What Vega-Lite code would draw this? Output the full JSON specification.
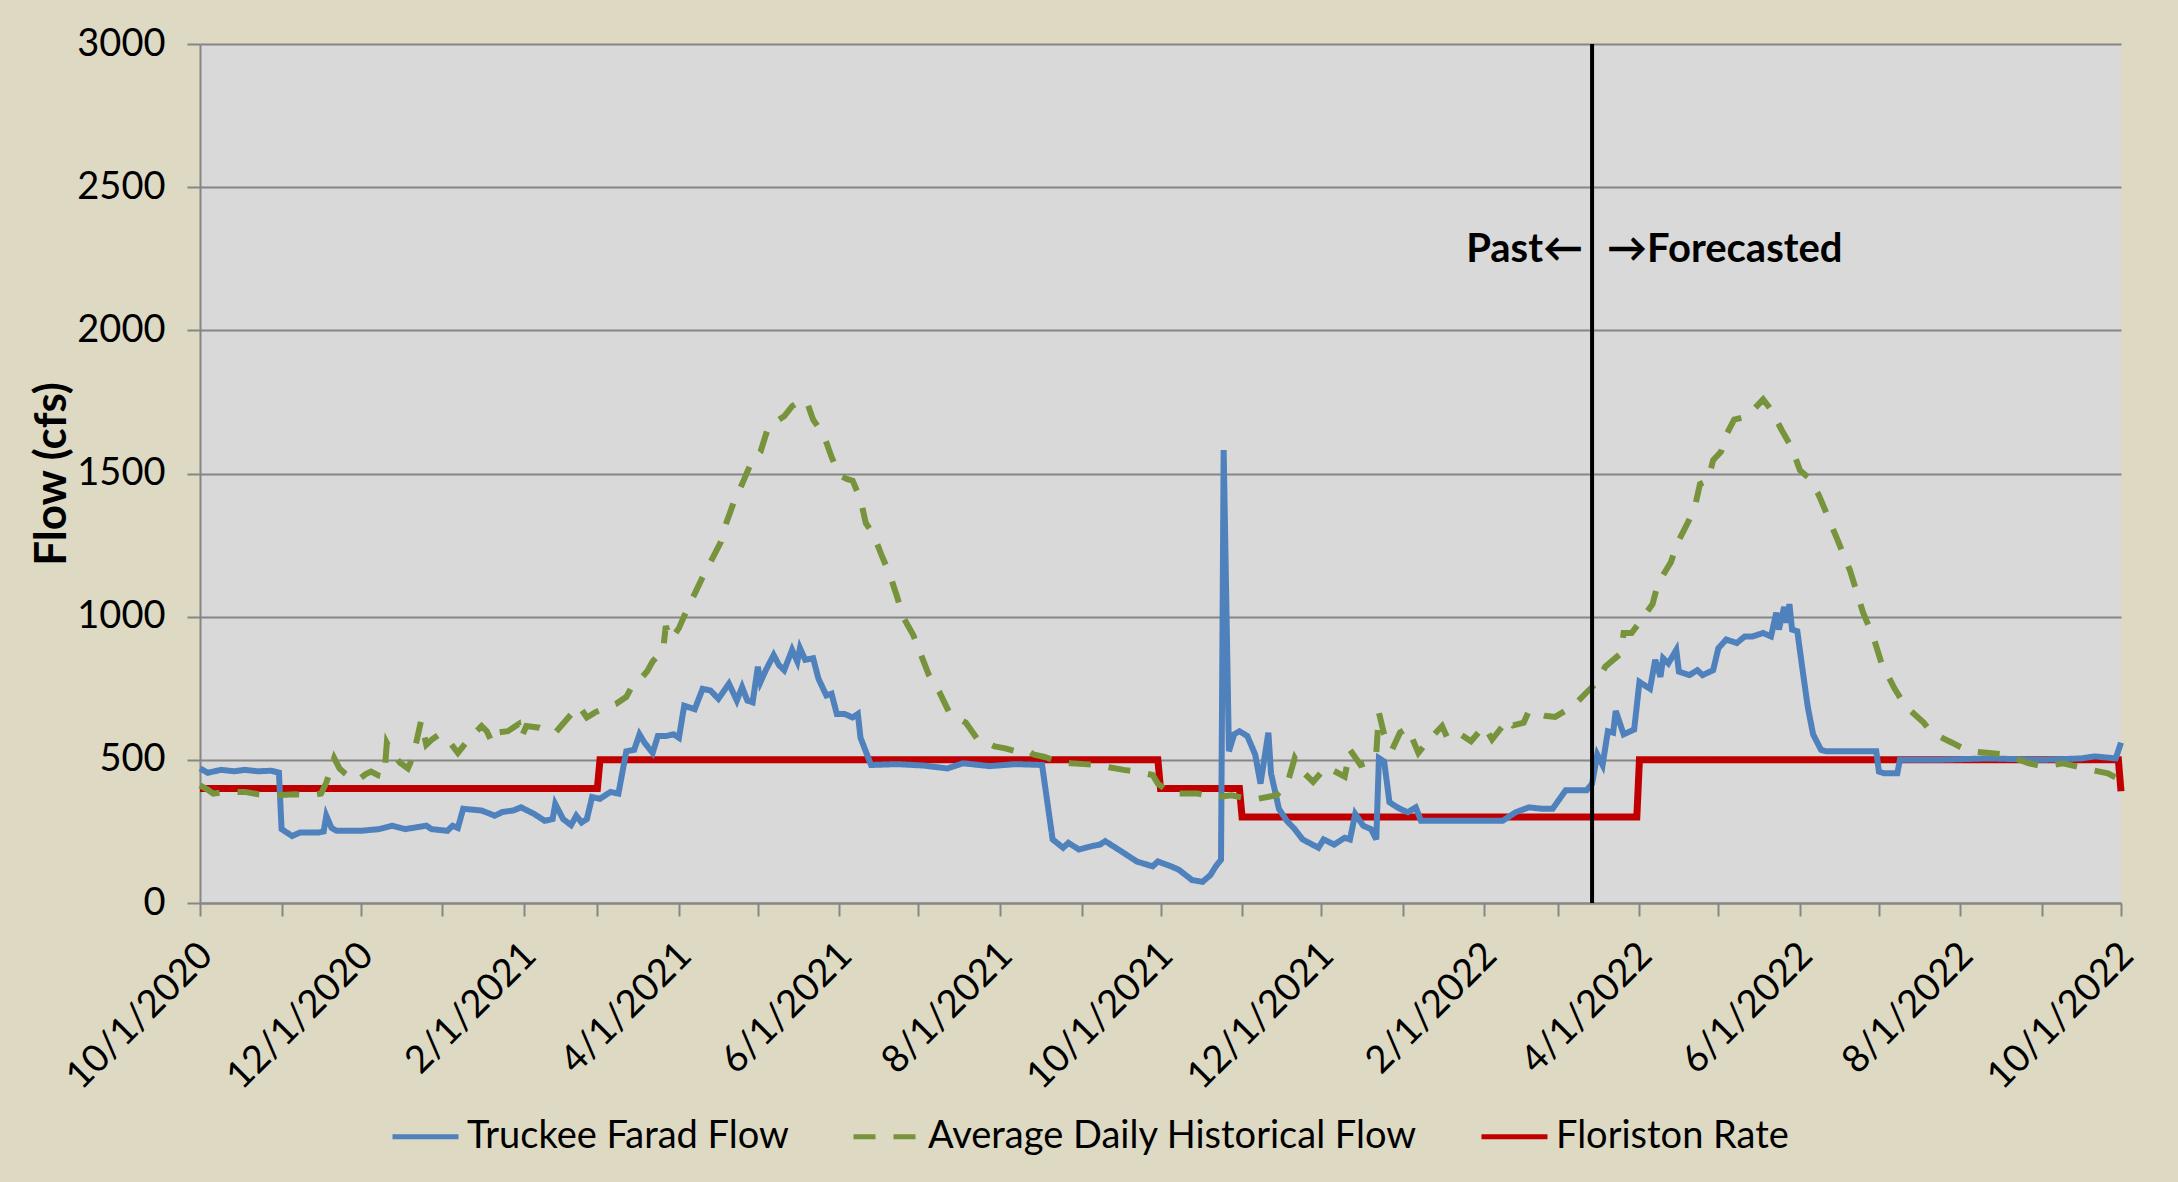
{
  "$schema": "https://vega.github.io/schema/vega-lite/v6.json",
  "width": 1921,
  "height": 859,
  "autosize": {"type": "none"},
  "padding": {"left": 200, "top": 44, "right": 57, "bottom": 279},
  "datasets": {
    "rate": [
      {"date": "2020-10-01", "cfs": 400, "series": "Floriston Rate"},
      {"date": "2021-03-01", "cfs": 400, "series": "Floriston Rate"},
      {"date": "2021-03-02", "cfs": 500, "series": "Floriston Rate"},
      {"date": "2021-09-30", "cfs": 500, "series": "Floriston Rate"},
      {"date": "2021-10-01", "cfs": 400, "series": "Floriston Rate"},
      {"date": "2021-10-31", "cfs": 400, "series": "Floriston Rate"},
      {"date": "2021-11-01", "cfs": 300, "series": "Floriston Rate"},
      {"date": "2022-03-31", "cfs": 300, "series": "Floriston Rate"},
      {"date": "2022-04-01", "cfs": 500, "series": "Floriston Rate"},
      {"date": "2022-09-30", "cfs": 500, "series": "Floriston Rate"},
      {"date": "2022-10-01", "cfs": 390, "series": "Floriston Rate"}
    ],
    "flow": [
      {"date": "2020-10-01", "cfs": 470, "series": "Truckee Farad Flow"},
      {"date": "2020-10-04", "cfs": 455, "series": "Truckee Farad Flow"},
      {"date": "2020-10-09", "cfs": 465, "series": "Truckee Farad Flow"},
      {"date": "2020-10-14", "cfs": 460, "series": "Truckee Farad Flow"},
      {"date": "2020-10-18", "cfs": 465, "series": "Truckee Farad Flow"},
      {"date": "2020-10-23", "cfs": 460, "series": "Truckee Farad Flow"},
      {"date": "2020-10-28", "cfs": 462, "series": "Truckee Farad Flow"},
      {"date": "2020-10-31", "cfs": 455, "series": "Truckee Farad Flow"},
      {"date": "2020-11-01", "cfs": 258, "series": "Truckee Farad Flow"},
      {"date": "2020-11-05", "cfs": 234, "series": "Truckee Farad Flow"},
      {"date": "2020-11-08", "cfs": 246, "series": "Truckee Farad Flow"},
      {"date": "2020-11-15", "cfs": 246, "series": "Truckee Farad Flow"},
      {"date": "2020-11-17", "cfs": 250, "series": "Truckee Farad Flow"},
      {"date": "2020-11-18", "cfs": 305, "series": "Truckee Farad Flow"},
      {"date": "2020-11-20", "cfs": 262, "series": "Truckee Farad Flow"},
      {"date": "2020-11-22", "cfs": 252, "series": "Truckee Farad Flow"},
      {"date": "2020-12-01", "cfs": 252, "series": "Truckee Farad Flow"},
      {"date": "2020-12-08", "cfs": 258, "series": "Truckee Farad Flow"},
      {"date": "2020-12-13", "cfs": 270, "series": "Truckee Farad Flow"},
      {"date": "2020-12-18", "cfs": 258, "series": "Truckee Farad Flow"},
      {"date": "2020-12-26", "cfs": 270, "series": "Truckee Farad Flow"},
      {"date": "2020-12-28", "cfs": 258, "series": "Truckee Farad Flow"},
      {"date": "2021-01-03", "cfs": 252, "series": "Truckee Farad Flow"},
      {"date": "2021-01-05", "cfs": 270, "series": "Truckee Farad Flow"},
      {"date": "2021-01-07", "cfs": 262, "series": "Truckee Farad Flow"},
      {"date": "2021-01-09", "cfs": 329, "series": "Truckee Farad Flow"},
      {"date": "2021-01-16", "cfs": 323, "series": "Truckee Farad Flow"},
      {"date": "2021-01-21", "cfs": 305, "series": "Truckee Farad Flow"},
      {"date": "2021-01-24", "cfs": 318, "series": "Truckee Farad Flow"},
      {"date": "2021-01-28", "cfs": 323, "series": "Truckee Farad Flow"},
      {"date": "2021-01-31", "cfs": 334, "series": "Truckee Farad Flow"},
      {"date": "2021-02-05", "cfs": 311, "series": "Truckee Farad Flow"},
      {"date": "2021-02-09", "cfs": 287, "series": "Truckee Farad Flow"},
      {"date": "2021-02-12", "cfs": 293, "series": "Truckee Farad Flow"},
      {"date": "2021-02-13", "cfs": 346, "series": "Truckee Farad Flow"},
      {"date": "2021-02-16", "cfs": 293, "series": "Truckee Farad Flow"},
      {"date": "2021-02-19", "cfs": 272, "series": "Truckee Farad Flow"},
      {"date": "2021-02-21", "cfs": 305, "series": "Truckee Farad Flow"},
      {"date": "2021-02-23", "cfs": 281, "series": "Truckee Farad Flow"},
      {"date": "2021-02-25", "cfs": 293, "series": "Truckee Farad Flow"},
      {"date": "2021-02-27", "cfs": 370, "series": "Truckee Farad Flow"},
      {"date": "2021-03-02", "cfs": 364, "series": "Truckee Farad Flow"},
      {"date": "2021-03-06", "cfs": 388, "series": "Truckee Farad Flow"},
      {"date": "2021-03-09", "cfs": 382, "series": "Truckee Farad Flow"},
      {"date": "2021-03-12", "cfs": 530, "series": "Truckee Farad Flow"},
      {"date": "2021-03-15", "cfs": 535, "series": "Truckee Farad Flow"},
      {"date": "2021-03-17", "cfs": 589, "series": "Truckee Farad Flow"},
      {"date": "2021-03-19", "cfs": 559, "series": "Truckee Farad Flow"},
      {"date": "2021-03-22", "cfs": 524, "series": "Truckee Farad Flow"},
      {"date": "2021-03-24", "cfs": 583, "series": "Truckee Farad Flow"},
      {"date": "2021-03-27", "cfs": 583, "series": "Truckee Farad Flow"},
      {"date": "2021-03-30", "cfs": 589, "series": "Truckee Farad Flow"},
      {"date": "2021-04-01", "cfs": 577, "series": "Truckee Farad Flow"},
      {"date": "2021-04-03", "cfs": 689, "series": "Truckee Farad Flow"},
      {"date": "2021-04-07", "cfs": 677, "series": "Truckee Farad Flow"},
      {"date": "2021-04-10", "cfs": 748, "series": "Truckee Farad Flow"},
      {"date": "2021-04-13", "cfs": 742, "series": "Truckee Farad Flow"},
      {"date": "2021-04-16", "cfs": 713, "series": "Truckee Farad Flow"},
      {"date": "2021-04-20", "cfs": 766, "series": "Truckee Farad Flow"},
      {"date": "2021-04-23", "cfs": 707, "series": "Truckee Farad Flow"},
      {"date": "2021-04-25", "cfs": 754, "series": "Truckee Farad Flow"},
      {"date": "2021-04-27", "cfs": 707, "series": "Truckee Farad Flow"},
      {"date": "2021-04-29", "cfs": 701, "series": "Truckee Farad Flow"},
      {"date": "2021-05-01", "cfs": 825, "series": "Truckee Farad Flow"},
      {"date": "2021-05-02", "cfs": 772, "series": "Truckee Farad Flow"},
      {"date": "2021-05-04", "cfs": 813, "series": "Truckee Farad Flow"},
      {"date": "2021-05-07", "cfs": 866, "series": "Truckee Farad Flow"},
      {"date": "2021-05-09", "cfs": 831, "series": "Truckee Farad Flow"},
      {"date": "2021-05-11", "cfs": 813, "series": "Truckee Farad Flow"},
      {"date": "2021-05-14", "cfs": 884, "series": "Truckee Farad Flow"},
      {"date": "2021-05-16", "cfs": 843, "series": "Truckee Farad Flow"},
      {"date": "2021-05-17", "cfs": 890, "series": "Truckee Farad Flow"},
      {"date": "2021-05-19", "cfs": 849, "series": "Truckee Farad Flow"},
      {"date": "2021-05-22", "cfs": 855, "series": "Truckee Farad Flow"},
      {"date": "2021-05-24", "cfs": 784, "series": "Truckee Farad Flow"},
      {"date": "2021-05-27", "cfs": 725, "series": "Truckee Farad Flow"},
      {"date": "2021-05-29", "cfs": 731, "series": "Truckee Farad Flow"},
      {"date": "2021-05-31", "cfs": 660, "series": "Truckee Farad Flow"},
      {"date": "2021-06-03", "cfs": 660, "series": "Truckee Farad Flow"},
      {"date": "2021-06-06", "cfs": 648, "series": "Truckee Farad Flow"},
      {"date": "2021-06-08", "cfs": 660, "series": "Truckee Farad Flow"},
      {"date": "2021-06-09", "cfs": 577, "series": "Truckee Farad Flow"},
      {"date": "2021-06-11", "cfs": 530, "series": "Truckee Farad Flow"},
      {"date": "2021-06-13", "cfs": 482, "series": "Truckee Farad Flow"},
      {"date": "2021-06-23", "cfs": 485, "series": "Truckee Farad Flow"},
      {"date": "2021-07-03", "cfs": 480, "series": "Truckee Farad Flow"},
      {"date": "2021-07-12", "cfs": 470, "series": "Truckee Farad Flow"},
      {"date": "2021-07-18", "cfs": 488, "series": "Truckee Farad Flow"},
      {"date": "2021-07-28", "cfs": 478, "series": "Truckee Farad Flow"},
      {"date": "2021-08-07", "cfs": 485, "series": "Truckee Farad Flow"},
      {"date": "2021-08-17", "cfs": 482, "series": "Truckee Farad Flow"},
      {"date": "2021-08-19", "cfs": 352, "series": "Truckee Farad Flow"},
      {"date": "2021-08-21", "cfs": 222, "series": "Truckee Farad Flow"},
      {"date": "2021-08-25", "cfs": 193, "series": "Truckee Farad Flow"},
      {"date": "2021-08-27", "cfs": 210, "series": "Truckee Farad Flow"},
      {"date": "2021-08-31", "cfs": 187, "series": "Truckee Farad Flow"},
      {"date": "2021-09-05", "cfs": 199, "series": "Truckee Farad Flow"},
      {"date": "2021-09-08", "cfs": 204, "series": "Truckee Farad Flow"},
      {"date": "2021-09-10", "cfs": 216, "series": "Truckee Farad Flow"},
      {"date": "2021-09-16", "cfs": 181, "series": "Truckee Farad Flow"},
      {"date": "2021-09-22", "cfs": 145, "series": "Truckee Farad Flow"},
      {"date": "2021-09-28", "cfs": 128, "series": "Truckee Farad Flow"},
      {"date": "2021-09-30", "cfs": 145, "series": "Truckee Farad Flow"},
      {"date": "2021-10-05", "cfs": 128, "series": "Truckee Farad Flow"},
      {"date": "2021-10-08", "cfs": 116, "series": "Truckee Farad Flow"},
      {"date": "2021-10-13", "cfs": 80, "series": "Truckee Farad Flow"},
      {"date": "2021-10-17", "cfs": 74, "series": "Truckee Farad Flow"},
      {"date": "2021-10-20", "cfs": 98, "series": "Truckee Farad Flow"},
      {"date": "2021-10-22", "cfs": 128, "series": "Truckee Farad Flow"},
      {"date": "2021-10-24", "cfs": 151, "series": "Truckee Farad Flow"},
      {"date": "2021-10-25", "cfs": 1582, "series": "Truckee Farad Flow"},
      {"date": "2021-10-27", "cfs": 530, "series": "Truckee Farad Flow"},
      {"date": "2021-10-29", "cfs": 589, "series": "Truckee Farad Flow"},
      {"date": "2021-10-31", "cfs": 600, "series": "Truckee Farad Flow"},
      {"date": "2021-11-03", "cfs": 583, "series": "Truckee Farad Flow"},
      {"date": "2021-11-06", "cfs": 518, "series": "Truckee Farad Flow"},
      {"date": "2021-11-08", "cfs": 417, "series": "Truckee Farad Flow"},
      {"date": "2021-11-11", "cfs": 595, "series": "Truckee Farad Flow"},
      {"date": "2021-11-12", "cfs": 453, "series": "Truckee Farad Flow"},
      {"date": "2021-11-15", "cfs": 329, "series": "Truckee Farad Flow"},
      {"date": "2021-11-18", "cfs": 287, "series": "Truckee Farad Flow"},
      {"date": "2021-11-21", "cfs": 258, "series": "Truckee Farad Flow"},
      {"date": "2021-11-24", "cfs": 222, "series": "Truckee Farad Flow"},
      {"date": "2021-11-30", "cfs": 193, "series": "Truckee Farad Flow"},
      {"date": "2021-12-02", "cfs": 222, "series": "Truckee Farad Flow"},
      {"date": "2021-12-06", "cfs": 204, "series": "Truckee Farad Flow"},
      {"date": "2021-12-10", "cfs": 228, "series": "Truckee Farad Flow"},
      {"date": "2021-12-12", "cfs": 222, "series": "Truckee Farad Flow"},
      {"date": "2021-12-14", "cfs": 311, "series": "Truckee Farad Flow"},
      {"date": "2021-12-17", "cfs": 270, "series": "Truckee Farad Flow"},
      {"date": "2021-12-20", "cfs": 258, "series": "Truckee Farad Flow"},
      {"date": "2021-12-22", "cfs": 222, "series": "Truckee Farad Flow"},
      {"date": "2021-12-23", "cfs": 506, "series": "Truckee Farad Flow"},
      {"date": "2021-12-25", "cfs": 494, "series": "Truckee Farad Flow"},
      {"date": "2021-12-27", "cfs": 352, "series": "Truckee Farad Flow"},
      {"date": "2021-12-29", "cfs": 340, "series": "Truckee Farad Flow"},
      {"date": "2021-12-31", "cfs": 329, "series": "Truckee Farad Flow"},
      {"date": "2022-01-03", "cfs": 317, "series": "Truckee Farad Flow"},
      {"date": "2022-01-06", "cfs": 334, "series": "Truckee Farad Flow"},
      {"date": "2022-01-08", "cfs": 287, "series": "Truckee Farad Flow"},
      {"date": "2022-01-21", "cfs": 287, "series": "Truckee Farad Flow"},
      {"date": "2022-02-08", "cfs": 287, "series": "Truckee Farad Flow"},
      {"date": "2022-02-13", "cfs": 317, "series": "Truckee Farad Flow"},
      {"date": "2022-02-18", "cfs": 334, "series": "Truckee Farad Flow"},
      {"date": "2022-02-23", "cfs": 329, "series": "Truckee Farad Flow"},
      {"date": "2022-02-27", "cfs": 329, "series": "Truckee Farad Flow"},
      {"date": "2022-03-04", "cfs": 394, "series": "Truckee Farad Flow"},
      {"date": "2022-03-07", "cfs": 394, "series": "Truckee Farad Flow"},
      {"date": "2022-03-12", "cfs": 394, "series": "Truckee Farad Flow"},
      {"date": "2022-03-14", "cfs": 417, "series": "Truckee Farad Flow"},
      {"date": "2022-03-16", "cfs": 518, "series": "Truckee Farad Flow"},
      {"date": "2022-03-18", "cfs": 482, "series": "Truckee Farad Flow"},
      {"date": "2022-03-20", "cfs": 600, "series": "Truckee Farad Flow"},
      {"date": "2022-03-22", "cfs": 595, "series": "Truckee Farad Flow"},
      {"date": "2022-03-23", "cfs": 671, "series": "Truckee Farad Flow"},
      {"date": "2022-03-26", "cfs": 589, "series": "Truckee Farad Flow"},
      {"date": "2022-03-30", "cfs": 606, "series": "Truckee Farad Flow"},
      {"date": "2022-04-01", "cfs": 772, "series": "Truckee Farad Flow"},
      {"date": "2022-04-05", "cfs": 748, "series": "Truckee Farad Flow"},
      {"date": "2022-04-07", "cfs": 849, "series": "Truckee Farad Flow"},
      {"date": "2022-04-09", "cfs": 790, "series": "Truckee Farad Flow"},
      {"date": "2022-04-10", "cfs": 855, "series": "Truckee Farad Flow"},
      {"date": "2022-04-12", "cfs": 837, "series": "Truckee Farad Flow"},
      {"date": "2022-04-15", "cfs": 884, "series": "Truckee Farad Flow"},
      {"date": "2022-04-16", "cfs": 808, "series": "Truckee Farad Flow"},
      {"date": "2022-04-20", "cfs": 796, "series": "Truckee Farad Flow"},
      {"date": "2022-04-23", "cfs": 813, "series": "Truckee Farad Flow"},
      {"date": "2022-04-25", "cfs": 796, "series": "Truckee Farad Flow"},
      {"date": "2022-04-29", "cfs": 813, "series": "Truckee Farad Flow"},
      {"date": "2022-05-01", "cfs": 890, "series": "Truckee Farad Flow"},
      {"date": "2022-05-04", "cfs": 920, "series": "Truckee Farad Flow"},
      {"date": "2022-05-08", "cfs": 908, "series": "Truckee Farad Flow"},
      {"date": "2022-05-11", "cfs": 931, "series": "Truckee Farad Flow"},
      {"date": "2022-05-14", "cfs": 931, "series": "Truckee Farad Flow"},
      {"date": "2022-05-18", "cfs": 943, "series": "Truckee Farad Flow"},
      {"date": "2022-05-21", "cfs": 931, "series": "Truckee Farad Flow"},
      {"date": "2022-05-23", "cfs": 1014, "series": "Truckee Farad Flow"},
      {"date": "2022-05-24", "cfs": 955, "series": "Truckee Farad Flow"},
      {"date": "2022-05-26", "cfs": 1034, "series": "Truckee Farad Flow"},
      {"date": "2022-05-27", "cfs": 979, "series": "Truckee Farad Flow"},
      {"date": "2022-05-28", "cfs": 1044, "series": "Truckee Farad Flow"},
      {"date": "2022-05-29", "cfs": 955, "series": "Truckee Farad Flow"},
      {"date": "2022-05-31", "cfs": 949, "series": "Truckee Farad Flow"},
      {"date": "2022-06-02", "cfs": 813, "series": "Truckee Farad Flow"},
      {"date": "2022-06-04", "cfs": 683, "series": "Truckee Farad Flow"},
      {"date": "2022-06-06", "cfs": 589, "series": "Truckee Farad Flow"},
      {"date": "2022-06-09", "cfs": 535, "series": "Truckee Farad Flow"},
      {"date": "2022-06-11", "cfs": 530, "series": "Truckee Farad Flow"},
      {"date": "2022-06-30", "cfs": 530, "series": "Truckee Farad Flow"},
      {"date": "2022-07-01", "cfs": 459, "series": "Truckee Farad Flow"},
      {"date": "2022-07-03", "cfs": 453, "series": "Truckee Farad Flow"},
      {"date": "2022-07-08", "cfs": 453, "series": "Truckee Farad Flow"},
      {"date": "2022-07-09", "cfs": 500, "series": "Truckee Farad Flow"},
      {"date": "2022-07-23", "cfs": 500, "series": "Truckee Farad Flow"},
      {"date": "2022-08-12", "cfs": 505, "series": "Truckee Farad Flow"},
      {"date": "2022-09-01", "cfs": 500, "series": "Truckee Farad Flow"},
      {"date": "2022-09-16", "cfs": 505, "series": "Truckee Farad Flow"},
      {"date": "2022-09-21", "cfs": 512, "series": "Truckee Farad Flow"},
      {"date": "2022-09-29", "cfs": 505, "series": "Truckee Farad Flow"},
      {"date": "2022-10-01", "cfs": 560, "series": "Truckee Farad Flow"}
    ],
    "hist": [
      {"date": "2020-10-01", "cfs": 411, "series": "Average Daily Historical Flow"},
      {"date": "2020-10-04", "cfs": 395, "series": "Average Daily Historical Flow"},
      {"date": "2020-10-06", "cfs": 382, "series": "Average Daily Historical Flow"},
      {"date": "2020-10-11", "cfs": 388, "series": "Average Daily Historical Flow"},
      {"date": "2020-10-18", "cfs": 388, "series": "Average Daily Historical Flow"},
      {"date": "2020-10-23", "cfs": 380, "series": "Average Daily Historical Flow"},
      {"date": "2020-10-30", "cfs": 376, "series": "Average Daily Historical Flow"},
      {"date": "2020-11-06", "cfs": 380, "series": "Average Daily Historical Flow"},
      {"date": "2020-11-12", "cfs": 376, "series": "Average Daily Historical Flow"},
      {"date": "2020-11-16", "cfs": 382, "series": "Average Daily Historical Flow"},
      {"date": "2020-11-18", "cfs": 420, "series": "Average Daily Historical Flow"},
      {"date": "2020-11-21", "cfs": 506, "series": "Average Daily Historical Flow"},
      {"date": "2020-11-23", "cfs": 470, "series": "Average Daily Historical Flow"},
      {"date": "2020-11-25", "cfs": 453, "series": "Average Daily Historical Flow"},
      {"date": "2020-11-28", "cfs": 432, "series": "Average Daily Historical Flow"},
      {"date": "2020-11-30", "cfs": 429, "series": "Average Daily Historical Flow"},
      {"date": "2020-12-03", "cfs": 450, "series": "Average Daily Historical Flow"},
      {"date": "2020-12-05", "cfs": 459, "series": "Average Daily Historical Flow"},
      {"date": "2020-12-08", "cfs": 445, "series": "Average Daily Historical Flow"},
      {"date": "2020-12-10", "cfs": 441, "series": "Average Daily Historical Flow"},
      {"date": "2020-12-11", "cfs": 559, "series": "Average Daily Historical Flow"},
      {"date": "2020-12-13", "cfs": 524, "series": "Average Daily Historical Flow"},
      {"date": "2020-12-16", "cfs": 490, "series": "Average Daily Historical Flow"},
      {"date": "2020-12-19", "cfs": 470, "series": "Average Daily Historical Flow"},
      {"date": "2020-12-21", "cfs": 512, "series": "Average Daily Historical Flow"},
      {"date": "2020-12-24", "cfs": 636, "series": "Average Daily Historical Flow"},
      {"date": "2020-12-26", "cfs": 553, "series": "Average Daily Historical Flow"},
      {"date": "2020-12-28", "cfs": 570, "series": "Average Daily Historical Flow"},
      {"date": "2020-12-31", "cfs": 589, "series": "Average Daily Historical Flow"},
      {"date": "2021-01-04", "cfs": 560, "series": "Average Daily Historical Flow"},
      {"date": "2021-01-07", "cfs": 524, "series": "Average Daily Historical Flow"},
      {"date": "2021-01-11", "cfs": 570, "series": "Average Daily Historical Flow"},
      {"date": "2021-01-16", "cfs": 618, "series": "Average Daily Historical Flow"},
      {"date": "2021-01-18", "cfs": 600, "series": "Average Daily Historical Flow"},
      {"date": "2021-01-20", "cfs": 560, "series": "Average Daily Historical Flow"},
      {"date": "2021-01-22", "cfs": 595, "series": "Average Daily Historical Flow"},
      {"date": "2021-01-26", "cfs": 600, "series": "Average Daily Historical Flow"},
      {"date": "2021-01-30", "cfs": 624, "series": "Average Daily Historical Flow"},
      {"date": "2021-01-31", "cfs": 575, "series": "Average Daily Historical Flow"},
      {"date": "2021-02-02", "cfs": 618, "series": "Average Daily Historical Flow"},
      {"date": "2021-02-07", "cfs": 612, "series": "Average Daily Historical Flow"},
      {"date": "2021-02-10", "cfs": 600, "series": "Average Daily Historical Flow"},
      {"date": "2021-02-13", "cfs": 595, "series": "Average Daily Historical Flow"},
      {"date": "2021-02-18", "cfs": 648, "series": "Average Daily Historical Flow"},
      {"date": "2021-02-22", "cfs": 689, "series": "Average Daily Historical Flow"},
      {"date": "2021-02-25", "cfs": 648, "series": "Average Daily Historical Flow"},
      {"date": "2021-02-28", "cfs": 665, "series": "Average Daily Historical Flow"},
      {"date": "2021-03-03", "cfs": 677, "series": "Average Daily Historical Flow"},
      {"date": "2021-03-08", "cfs": 695, "series": "Average Daily Historical Flow"},
      {"date": "2021-03-12", "cfs": 720, "series": "Average Daily Historical Flow"},
      {"date": "2021-03-14", "cfs": 754, "series": "Average Daily Historical Flow"},
      {"date": "2021-03-17", "cfs": 778, "series": "Average Daily Historical Flow"},
      {"date": "2021-03-20", "cfs": 810, "series": "Average Daily Historical Flow"},
      {"date": "2021-03-22", "cfs": 843, "series": "Average Daily Historical Flow"},
      {"date": "2021-03-26", "cfs": 884, "series": "Average Daily Historical Flow"},
      {"date": "2021-03-27", "cfs": 967, "series": "Average Daily Historical Flow"},
      {"date": "2021-03-29", "cfs": 920, "series": "Average Daily Historical Flow"},
      {"date": "2021-04-01", "cfs": 960, "series": "Average Daily Historical Flow"},
      {"date": "2021-04-03", "cfs": 1002, "series": "Average Daily Historical Flow"},
      {"date": "2021-04-06", "cfs": 1061, "series": "Average Daily Historical Flow"},
      {"date": "2021-04-10", "cfs": 1138, "series": "Average Daily Historical Flow"},
      {"date": "2021-04-13", "cfs": 1191, "series": "Average Daily Historical Flow"},
      {"date": "2021-04-17", "cfs": 1262, "series": "Average Daily Historical Flow"},
      {"date": "2021-04-19", "cfs": 1327, "series": "Average Daily Historical Flow"},
      {"date": "2021-04-22", "cfs": 1404, "series": "Average Daily Historical Flow"},
      {"date": "2021-04-25", "cfs": 1463, "series": "Average Daily Historical Flow"},
      {"date": "2021-04-28", "cfs": 1528, "series": "Average Daily Historical Flow"},
      {"date": "2021-05-02", "cfs": 1576, "series": "Average Daily Historical Flow"},
      {"date": "2021-05-05", "cfs": 1664, "series": "Average Daily Historical Flow"},
      {"date": "2021-05-08", "cfs": 1682, "series": "Average Daily Historical Flow"},
      {"date": "2021-05-11", "cfs": 1700, "series": "Average Daily Historical Flow"},
      {"date": "2021-05-14", "cfs": 1735, "series": "Average Daily Historical Flow"},
      {"date": "2021-05-18", "cfs": 1759, "series": "Average Daily Historical Flow"},
      {"date": "2021-05-20", "cfs": 1740, "series": "Average Daily Historical Flow"},
      {"date": "2021-05-22", "cfs": 1688, "series": "Average Daily Historical Flow"},
      {"date": "2021-05-26", "cfs": 1635, "series": "Average Daily Historical Flow"},
      {"date": "2021-05-29", "cfs": 1558, "series": "Average Daily Historical Flow"},
      {"date": "2021-06-01", "cfs": 1493, "series": "Average Daily Historical Flow"},
      {"date": "2021-06-04", "cfs": 1480, "series": "Average Daily Historical Flow"},
      {"date": "2021-06-06", "cfs": 1475, "series": "Average Daily Historical Flow"},
      {"date": "2021-06-09", "cfs": 1410, "series": "Average Daily Historical Flow"},
      {"date": "2021-06-11", "cfs": 1327, "series": "Average Daily Historical Flow"},
      {"date": "2021-06-14", "cfs": 1286, "series": "Average Daily Historical Flow"},
      {"date": "2021-06-17", "cfs": 1215, "series": "Average Daily Historical Flow"},
      {"date": "2021-06-20", "cfs": 1150, "series": "Average Daily Historical Flow"},
      {"date": "2021-06-23", "cfs": 1067, "series": "Average Daily Historical Flow"},
      {"date": "2021-06-25", "cfs": 1002, "series": "Average Daily Historical Flow"},
      {"date": "2021-06-29", "cfs": 937, "series": "Average Daily Historical Flow"},
      {"date": "2021-07-02", "cfs": 866, "series": "Average Daily Historical Flow"},
      {"date": "2021-07-05", "cfs": 796, "series": "Average Daily Historical Flow"},
      {"date": "2021-07-09", "cfs": 736, "series": "Average Daily Historical Flow"},
      {"date": "2021-07-13", "cfs": 660, "series": "Average Daily Historical Flow"},
      {"date": "2021-07-16", "cfs": 645, "series": "Average Daily Historical Flow"},
      {"date": "2021-07-19", "cfs": 630, "series": "Average Daily Historical Flow"},
      {"date": "2021-07-24", "cfs": 565, "series": "Average Daily Historical Flow"},
      {"date": "2021-07-27", "cfs": 560, "series": "Average Daily Historical Flow"},
      {"date": "2021-07-30", "cfs": 547, "series": "Average Daily Historical Flow"},
      {"date": "2021-08-03", "cfs": 540, "series": "Average Daily Historical Flow"},
      {"date": "2021-08-07", "cfs": 530, "series": "Average Daily Historical Flow"},
      {"date": "2021-08-11", "cfs": 535, "series": "Average Daily Historical Flow"},
      {"date": "2021-08-14", "cfs": 518, "series": "Average Daily Historical Flow"},
      {"date": "2021-08-18", "cfs": 510, "series": "Average Daily Historical Flow"},
      {"date": "2021-08-23", "cfs": 494, "series": "Average Daily Historical Flow"},
      {"date": "2021-08-28", "cfs": 488, "series": "Average Daily Historical Flow"},
      {"date": "2021-09-02", "cfs": 485, "series": "Average Daily Historical Flow"},
      {"date": "2021-09-07", "cfs": 482, "series": "Average Daily Historical Flow"},
      {"date": "2021-09-12", "cfs": 473, "series": "Average Daily Historical Flow"},
      {"date": "2021-09-17", "cfs": 465, "series": "Average Daily Historical Flow"},
      {"date": "2021-09-22", "cfs": 459, "series": "Average Daily Historical Flow"},
      {"date": "2021-09-28", "cfs": 447, "series": "Average Daily Historical Flow"},
      {"date": "2021-09-30", "cfs": 417, "series": "Average Daily Historical Flow"},
      {"date": "2021-10-05", "cfs": 382, "series": "Average Daily Historical Flow"},
      {"date": "2021-10-10", "cfs": 382, "series": "Average Daily Historical Flow"},
      {"date": "2021-10-15", "cfs": 382, "series": "Average Daily Historical Flow"},
      {"date": "2021-10-22", "cfs": 370, "series": "Average Daily Historical Flow"},
      {"date": "2021-10-28", "cfs": 376, "series": "Average Daily Historical Flow"},
      {"date": "2021-11-03", "cfs": 364, "series": "Average Daily Historical Flow"},
      {"date": "2021-11-07", "cfs": 364, "series": "Average Daily Historical Flow"},
      {"date": "2021-11-14", "cfs": 376, "series": "Average Daily Historical Flow"},
      {"date": "2021-11-18", "cfs": 411, "series": "Average Daily Historical Flow"},
      {"date": "2021-11-21", "cfs": 506, "series": "Average Daily Historical Flow"},
      {"date": "2021-11-24", "cfs": 459, "series": "Average Daily Historical Flow"},
      {"date": "2021-11-28", "cfs": 423, "series": "Average Daily Historical Flow"},
      {"date": "2021-12-03", "cfs": 476, "series": "Average Daily Historical Flow"},
      {"date": "2021-12-10", "cfs": 441, "series": "Average Daily Historical Flow"},
      {"date": "2021-12-12", "cfs": 535, "series": "Average Daily Historical Flow"},
      {"date": "2021-12-16", "cfs": 482, "series": "Average Daily Historical Flow"},
      {"date": "2021-12-20", "cfs": 494, "series": "Average Daily Historical Flow"},
      {"date": "2021-12-22", "cfs": 524, "series": "Average Daily Historical Flow"},
      {"date": "2021-12-23", "cfs": 665, "series": "Average Daily Historical Flow"},
      {"date": "2021-12-25", "cfs": 589, "series": "Average Daily Historical Flow"},
      {"date": "2021-12-28", "cfs": 535, "series": "Average Daily Historical Flow"},
      {"date": "2021-12-31", "cfs": 595, "series": "Average Daily Historical Flow"},
      {"date": "2022-01-03", "cfs": 612, "series": "Average Daily Historical Flow"},
      {"date": "2022-01-07", "cfs": 524, "series": "Average Daily Historical Flow"},
      {"date": "2022-01-10", "cfs": 559, "series": "Average Daily Historical Flow"},
      {"date": "2022-01-16", "cfs": 618, "series": "Average Daily Historical Flow"},
      {"date": "2022-01-18", "cfs": 577, "series": "Average Daily Historical Flow"},
      {"date": "2022-01-22", "cfs": 595, "series": "Average Daily Historical Flow"},
      {"date": "2022-01-27", "cfs": 565, "series": "Average Daily Historical Flow"},
      {"date": "2022-02-01", "cfs": 618, "series": "Average Daily Historical Flow"},
      {"date": "2022-02-04", "cfs": 571, "series": "Average Daily Historical Flow"},
      {"date": "2022-02-07", "cfs": 606, "series": "Average Daily Historical Flow"},
      {"date": "2022-02-10", "cfs": 642, "series": "Average Daily Historical Flow"},
      {"date": "2022-02-12", "cfs": 620, "series": "Average Daily Historical Flow"},
      {"date": "2022-02-16", "cfs": 630, "series": "Average Daily Historical Flow"},
      {"date": "2022-02-18", "cfs": 671, "series": "Average Daily Historical Flow"},
      {"date": "2022-02-24", "cfs": 654, "series": "Average Daily Historical Flow"},
      {"date": "2022-02-28", "cfs": 650, "series": "Average Daily Historical Flow"},
      {"date": "2022-03-07", "cfs": 689, "series": "Average Daily Historical Flow"},
      {"date": "2022-03-12", "cfs": 736, "series": "Average Daily Historical Flow"},
      {"date": "2022-03-16", "cfs": 772, "series": "Average Daily Historical Flow"},
      {"date": "2022-03-19", "cfs": 825, "series": "Average Daily Historical Flow"},
      {"date": "2022-03-25", "cfs": 872, "series": "Average Daily Historical Flow"},
      {"date": "2022-03-26", "cfs": 943, "series": "Average Daily Historical Flow"},
      {"date": "2022-03-29", "cfs": 943, "series": "Average Daily Historical Flow"},
      {"date": "2022-04-01", "cfs": 979, "series": "Average Daily Historical Flow"},
      {"date": "2022-04-06", "cfs": 1044, "series": "Average Daily Historical Flow"},
      {"date": "2022-04-08", "cfs": 1115, "series": "Average Daily Historical Flow"},
      {"date": "2022-04-13", "cfs": 1191, "series": "Average Daily Historical Flow"},
      {"date": "2022-04-15", "cfs": 1250, "series": "Average Daily Historical Flow"},
      {"date": "2022-04-19", "cfs": 1321, "series": "Average Daily Historical Flow"},
      {"date": "2022-04-22", "cfs": 1380, "series": "Average Daily Historical Flow"},
      {"date": "2022-04-24", "cfs": 1463, "series": "Average Daily Historical Flow"},
      {"date": "2022-04-27", "cfs": 1475, "series": "Average Daily Historical Flow"},
      {"date": "2022-04-29", "cfs": 1546, "series": "Average Daily Historical Flow"},
      {"date": "2022-05-02", "cfs": 1576, "series": "Average Daily Historical Flow"},
      {"date": "2022-05-04", "cfs": 1635, "series": "Average Daily Historical Flow"},
      {"date": "2022-05-07", "cfs": 1688, "series": "Average Daily Historical Flow"},
      {"date": "2022-05-12", "cfs": 1700, "series": "Average Daily Historical Flow"},
      {"date": "2022-05-18", "cfs": 1759, "series": "Average Daily Historical Flow"},
      {"date": "2022-05-21", "cfs": 1723, "series": "Average Daily Historical Flow"},
      {"date": "2022-05-25", "cfs": 1653, "series": "Average Daily Historical Flow"},
      {"date": "2022-05-29", "cfs": 1588, "series": "Average Daily Historical Flow"},
      {"date": "2022-06-01", "cfs": 1511, "series": "Average Daily Historical Flow"},
      {"date": "2022-06-04", "cfs": 1487, "series": "Average Daily Historical Flow"},
      {"date": "2022-06-08", "cfs": 1428, "series": "Average Daily Historical Flow"},
      {"date": "2022-06-11", "cfs": 1363, "series": "Average Daily Historical Flow"},
      {"date": "2022-06-15", "cfs": 1274, "series": "Average Daily Historical Flow"},
      {"date": "2022-06-20", "cfs": 1162, "series": "Average Daily Historical Flow"},
      {"date": "2022-06-25", "cfs": 1014, "series": "Average Daily Historical Flow"},
      {"date": "2022-06-29", "cfs": 926, "series": "Average Daily Historical Flow"},
      {"date": "2022-07-02", "cfs": 837, "series": "Average Daily Historical Flow"},
      {"date": "2022-07-07", "cfs": 748, "series": "Average Daily Historical Flow"},
      {"date": "2022-07-11", "cfs": 689, "series": "Average Daily Historical Flow"},
      {"date": "2022-07-18", "cfs": 630, "series": "Average Daily Historical Flow"},
      {"date": "2022-07-21", "cfs": 595, "series": "Average Daily Historical Flow"},
      {"date": "2022-07-29", "cfs": 559, "series": "Average Daily Historical Flow"},
      {"date": "2022-08-04", "cfs": 530, "series": "Average Daily Historical Flow"},
      {"date": "2022-08-12", "cfs": 524, "series": "Average Daily Historical Flow"},
      {"date": "2022-08-18", "cfs": 518, "series": "Average Daily Historical Flow"},
      {"date": "2022-08-27", "cfs": 488, "series": "Average Daily Historical Flow"},
      {"date": "2022-09-02", "cfs": 476, "series": "Average Daily Historical Flow"},
      {"date": "2022-09-09", "cfs": 488, "series": "Average Daily Historical Flow"},
      {"date": "2022-09-17", "cfs": 470, "series": "Average Daily Historical Flow"},
      {"date": "2022-09-26", "cfs": 453, "series": "Average Daily Historical Flow"},
      {"date": "2022-10-01", "cfs": 429, "series": "Average Daily Historical Flow"}
    ],
    "split": [{"date": "2022-03-14", "cfs": 2280, "past": "Past←", "future": "→Forecasted"}]
  },
  "encoding": {
    "x": {
      "field": "date",
      "type": "temporal",
      "scale": {
        "type": "utc",
        "nice": false,
        "domain": [
          {"year": 2020, "month": 10, "date": 1, "utc": true},
          {"year": 2022, "month": 10, "date": 1, "utc": true}
        ]
      },
      "axis": {
        "title": null,
        "grid": false,
        "values": [
          {"year": 2020, "month": 10, "date": 1, "utc": true},
          {"year": 2020, "month": 11, "date": 1, "utc": true},
          {"year": 2020, "month": 12, "date": 1, "utc": true},
          {"year": 2021, "month": 1, "date": 1, "utc": true},
          {"year": 2021, "month": 2, "date": 1, "utc": true},
          {"year": 2021, "month": 3, "date": 1, "utc": true},
          {"year": 2021, "month": 4, "date": 1, "utc": true},
          {"year": 2021, "month": 5, "date": 1, "utc": true},
          {"year": 2021, "month": 6, "date": 1, "utc": true},
          {"year": 2021, "month": 7, "date": 1, "utc": true},
          {"year": 2021, "month": 8, "date": 1, "utc": true},
          {"year": 2021, "month": 9, "date": 1, "utc": true},
          {"year": 2021, "month": 10, "date": 1, "utc": true},
          {"year": 2021, "month": 11, "date": 1, "utc": true},
          {"year": 2021, "month": 12, "date": 1, "utc": true},
          {"year": 2022, "month": 1, "date": 1, "utc": true},
          {"year": 2022, "month": 2, "date": 1, "utc": true},
          {"year": 2022, "month": 3, "date": 1, "utc": true},
          {"year": 2022, "month": 4, "date": 1, "utc": true},
          {"year": 2022, "month": 5, "date": 1, "utc": true},
          {"year": 2022, "month": 6, "date": 1, "utc": true},
          {"year": 2022, "month": 7, "date": 1, "utc": true},
          {"year": 2022, "month": 8, "date": 1, "utc": true},
          {"year": 2022, "month": 9, "date": 1, "utc": true},
          {"year": 2022, "month": 10, "date": 1, "utc": true}
        ],
        "labelExpr": "utcmonth(datum.value) % 2 == 1 ? utcFormat(datum.value, '%-m/%-d/%Y') : ''",
        "labelAngle": -45,
        "labelAlign": "right",
        "labelBaseline": "top",
        "labelFontSize": 38,
        "labelPadding": 20,
        "labelOffset": -7,
        "labelLimit": 1000,
        "labelOverlap": false,
        "labelFlush": false,
        "labelBound": false
      }
    },
    "y": {
      "field": "cfs",
      "type": "quantitative",
      "scale": {"domain": [0, 3000], "nice": false},
      "axis": {
        "values": [0, 500, 1000, 1500, 2000, 2500, 3000],
        "format": "d",
        "grid": true,
        "title": "Flow (cfs)",
        "titleFontSize": 44,
        "titleFontWeight": "bold",
        "titlePadding": 2,
        "labelFontSize": 38,
        "labelPadding": 22
      }
    }
  },
  "layer": [
    {
      "encoding": {
        "stroke": {
          "field": "series",
          "type": "nominal",
          "scale": {
            "domain": ["Truckee Farad Flow", "Average Daily Historical Flow", "Floriston Rate"],
            "range": ["#4f81bd", "#77933c", "#c00000"]
          },
          "legend": {
            "title": null,
            "orient": "none",
            "legendX": 190,
            "legendY": 1057,
            "direction": "horizontal",
            "columns": 3,
            "symbolType": "stroke",
            "symbolSize": 4356,
            "symbolStrokeWidth": 5,
            "labelFontSize": 38,
            "labelColor": "#000000",
            "labelOffset": 6,
            "columnPadding": 54,
            "labelLimit": 1000
          }
        },
        "strokeDash": {
          "field": "series",
          "type": "nominal",
          "scale": {
            "domain": ["Truckee Farad Flow", "Average Daily Historical Flow", "Floriston Rate"],
            "range": [[1, 0], [22, 18], [1, 0]]
          },
          "legend": {
            "title": null,
            "orient": "none",
            "legendX": 190,
            "legendY": 1057,
            "direction": "horizontal",
            "columns": 3,
            "symbolType": "stroke",
            "symbolSize": 4356,
            "symbolStrokeWidth": 5,
            "labelFontSize": 38,
            "labelColor": "#000000",
            "labelOffset": 6,
            "columnPadding": 54,
            "labelLimit": 1000
          }
        }
      },
      "layer": [
        {"data": {"name": "rate"}, "mark": {"type": "line", "strokeWidth": 7}},
        {"data": {"name": "flow"}, "mark": {"type": "line", "strokeWidth": 6}},
        {"data": {"name": "hist"}, "mark": {"type": "line", "strokeWidth": 6}}
      ]
    },
    {
      "data": {"name": "split"},
      "mark": {"type": "rule", "stroke": "#000000", "strokeWidth": 4},
      "encoding": {"x": {"field": "date", "type": "temporal"}, "y": null}
    },
    {
      "data": {"name": "split"},
      "mark": {"type": "text", "align": "right", "baseline": "middle", "dx": -9, "fontSize": 40, "fontWeight": "bold", "color": "#000000"},
      "encoding": {"text": {"field": "past"}}
    },
    {
      "data": {"name": "split"},
      "mark": {"type": "text", "align": "left", "baseline": "middle", "dx": 15, "fontSize": 40, "fontWeight": "bold", "color": "#000000"},
      "encoding": {"text": {"field": "future"}}
    }
  ],
  "config": {
    "background": "#ddd9c3",
    "font": "Lato",
    "view": {"fill": "#d9d9d9", "stroke": null},
    "axis": {
      "labelFont": "Lato",
      "titleFont": "Lato",
      "labelColor": "#000000",
      "titleColor": "#000000",
      "domainColor": "#868686",
      "domainWidth": 2,
      "tickColor": "#868686",
      "tickWidth": 2,
      "tickSize": 13,
      "gridColor": "#868686",
      "gridWidth": 2
    },
    "legend": {"labelFont": "Lato"},
    "text": {"font": "Lato"}
  }
}
